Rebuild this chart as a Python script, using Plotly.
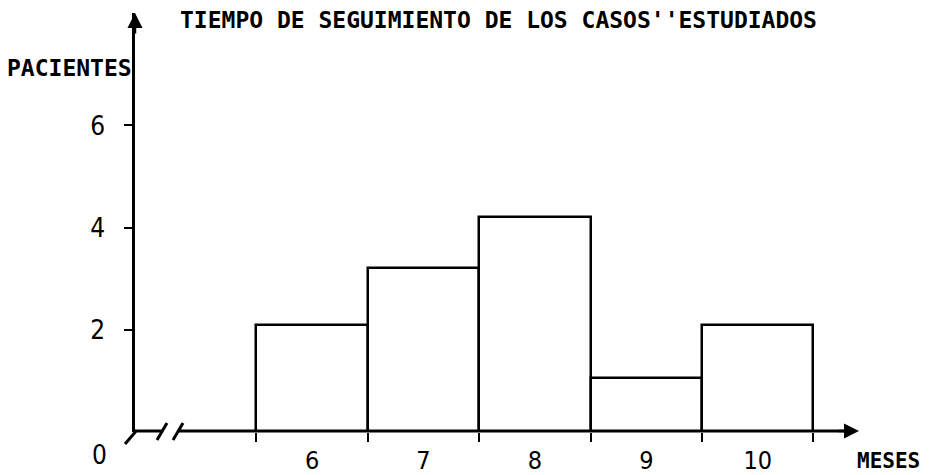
import plotly.graph_objects as go

# ---- data ----
meses = [6, 7, 8, 9, 10]
pacientes = [2.1, 3.2, 4.2, 1.05, 2.1]
y_tickvals = [2, 4, 6]
y_ticktext = ["2", "4", "6"]
bar_edges = [5.5, 6.5, 7.5, 8.5, 9.5, 10.5]
title_text = "TIEMPO DE SEGUIMIENTO DE LOS CASOS''ESTUDIADOS"
y_title = "PACIENTES"
x_title = "MESES"

# ---- layout geometry (page pixels; the page body adds an 8px offset) ----
OFF = 8
W, H = 930 - OFF, 475 - OFF
L, R, T, B = 135, 858, 13, 432          # page coords of plot area
XR = [4.41, 10.90]
YR = [0, 8.2]


def px(p):
    return (p - L) / (R - L)


def py(p):
    return (B - p) / (B - T)


mono = dict(family="DejaVu Sans Mono, Liberation Mono, monospace", size=23, color="black", weight="bold")
mono_small = dict(mono, size=21)
num = dict(family="Liberation Sans Narrow, DejaVu Sans Condensed, Roboto Condensed, Roboto, sans-serif", size=26, color="black")
num_x = dict(num, size=25)

fig = go.Figure()
fig.add_trace(go.Bar(
    x=meses, y=pacientes, width=1,
    marker=dict(color="white", line=dict(color="black", width=2.5)),
    hoverinfo="skip", showlegend=False,
))

shapes = []
line_style = dict(color="black", width=3)
# x axis line with break
shapes.append(dict(type="line", xref="paper", yref="paper", x0=px(137), x1=px(163), y0=py(431), y1=py(431), line=line_style))
shapes.append(dict(type="line", xref="paper", yref="paper", x0=px(178), x1=px(850), y0=py(431), y1=py(431), line=line_style))
# origin diagonal
shapes.append(dict(type="line", xref="paper", yref="paper", x0=px(125), x1=px(137), y0=py(444), y1=py(430), line=line_style))
# break slashes
shapes.append(dict(type="line", xref="paper", yref="paper", x0=px(157), x1=px(167), y0=py(440), y1=py(423), line=line_style))
shapes.append(dict(type="line", xref="paper", yref="paper", x0=px(173), x1=px(183), y0=py(440), y1=py(423), line=line_style))

annotations = []
# arrows
annotations.append(dict(xref="paper", yref="paper", x=px(859), y=py(431), ax=-22, ay=0, text="",
                        showarrow=True, arrowhead=2, arrowsize=1.2, arrowwidth=2.5, arrowcolor="black"))
annotations.append(dict(xref="paper", yref="paper", x=0, y=py(13), ax=0, ay=22, text="",
                        showarrow=True, arrowhead=2, arrowsize=1.2, arrowwidth=2.5, arrowcolor="black"))
# axis titles
annotations.append(dict(xref="paper", yref="paper", x=px(69), y=py(68), text=y_title, showarrow=False,
                        xanchor="center", yanchor="middle", font=mono))
annotations.append(dict(xref="paper", yref="paper", x=px(888), y=py(461), text=x_title, showarrow=False,
                        xanchor="center", yanchor="middle", font=mono_small))
# zero label
annotations.append(dict(xref="paper", yref="paper", x=px(99), y=py(455), text="0", showarrow=False,
                        xanchor="center", yanchor="middle", font=num))

fig.update_layout(
    width=W, height=H,
    margin=dict(l=L - OFF, r=930 - R, t=T - OFF, b=475 - B, pad=0, autoexpand=False),
    paper_bgcolor="white", plot_bgcolor="white",
    title=dict(text=title_text, xref="container", yref="container",
               x=(180 - OFF) / W, y=1 - (20 - OFF) / H,
               xanchor="left", yanchor="middle", font=mono, automargin=False),
    xaxis=dict(range=XR, showline=False, showgrid=False, zeroline=False, automargin=False,
               tickmode="array", tickvals=meses, ticktext=[str(m) for m in meses],
               ticks="", tickfont=num_x, ticklabelstandoff=11,
               minor=dict(tickmode="array", tickvals=bar_edges, ticks="outside", ticklen=9,
                          tickwidth=2, tickcolor="black", showgrid=False)),
    yaxis=dict(range=YR, showline=True, linecolor="black", linewidth=2.5, showgrid=False, zeroline=False,
               automargin=False,
               tickmode="array", tickvals=y_tickvals, ticktext=y_ticktext,
               ticks="outside", ticklen=8, tickwidth=2, tickcolor="black",
               tickfont=num, ticklabelstandoff=14),
    shapes=shapes, annotations=annotations,
    bargap=0,
)

fig.write_html("out.html")
